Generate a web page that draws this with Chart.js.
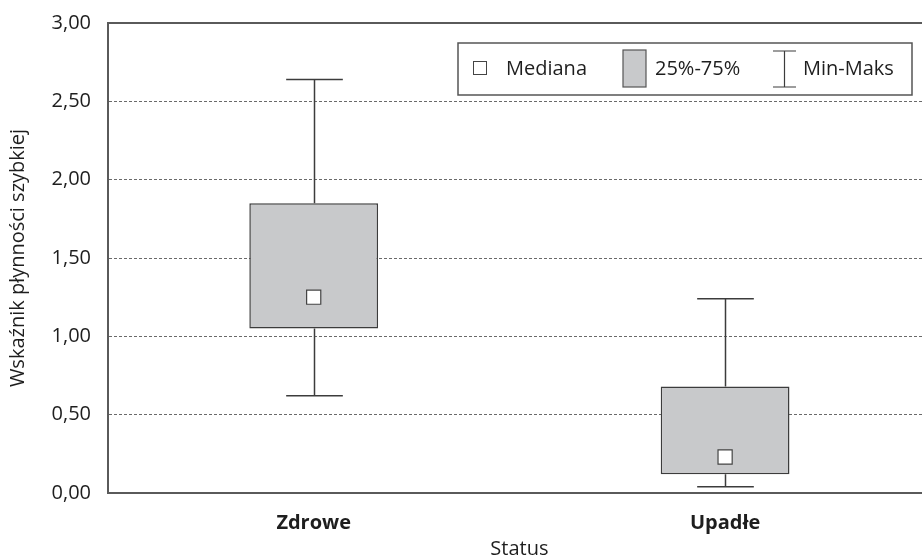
<!DOCTYPE html>
<html>
<head>
<meta charset="utf-8">
<script src="https://cdn.jsdelivr.net/npm/chart.js@4/dist/chart.umd.min.js"></script>
<style>
  html, body { margin: 0; padding: 0; background: #fff; overflow: hidden; }
  #canva { display: block; }
</style>
</head>
<body>
<canvas id="canva" width="942" height="557"></canvas>
<script>
const categories = ['Zdrowe', 'Upadłe'];
const minValues = [0.62, 0.04];
const q1Values = [1.05, 0.12];
const medianValues = [1.25, 0.23];
const q3Values = [1.85, 0.68];
const maxValues = [2.64, 1.24];
const legendLabels = ['Mediana', '25%-75%', 'Min-Maks'];

const FONT = "'Open Sans', 'DejaVu Sans', sans-serif";
const boxFill = '#c8c9cb';
const lineColor = '#3c3c3c';
const textColor = '#1e1e1e';

// whiskers + top frame line + legend
const whiskers = {
    id: 'whiskers',
    beforeDatasetsDraw(chart) {
        const ctx = chart.ctx;
        const x = chart.scales.x;
        const y = chart.scales.y;
        const bars = chart.getDatasetMeta(0).data;
        ctx.save();
        ctx.strokeStyle = lineColor;
        ctx.lineWidth = 1.5;
        categories.forEach((c, i) => {
            const px = Math.round(x.getPixelForValue(i)) + 0.5;
            const half = bars[i].width * 0.22;
            const yMax = y.getPixelForValue(maxValues[i]);
            const yMin = y.getPixelForValue(minValues[i]);
            ctx.beginPath();
            ctx.moveTo(px, yMax);
            ctx.lineTo(px, y.getPixelForValue(q3Values[i]));
            ctx.moveTo(px, y.getPixelForValue(q1Values[i]));
            ctx.lineTo(px, yMin);
            ctx.moveTo(px - half, yMax);
            ctx.lineTo(px + half, yMax);
            ctx.moveTo(px - half, yMin);
            ctx.lineTo(px + half, yMin);
            ctx.stroke();
        });
        ctx.restore();
    },
    afterDraw(chart) {
        const ctx = chart.ctx;
        const a = chart.chartArea;
        ctx.save();
        ctx.strokeStyle = '#5a5a5a';
        ctx.lineWidth = 2;
        ctx.beginPath();
        ctx.moveTo(a.left - 1, a.top);
        ctx.lineTo(a.right, a.top);
        ctx.stroke();

        // legend box
        ctx.fillStyle = '#fff';
        ctx.fillRect(458, 43, 454, 52);
        ctx.strokeStyle = '#555';
        ctx.lineWidth = 1.5;
        ctx.strokeRect(458, 43, 454, 52);

        ctx.lineWidth = 1;
        ctx.strokeStyle = '#444';
        ctx.strokeRect(473.5, 61.5, 13, 13);

        ctx.fillStyle = boxFill;
        ctx.fillRect(623, 50, 23, 37);
        ctx.strokeStyle = '#555';
        ctx.lineWidth = 1.2;
        ctx.strokeRect(623, 50, 23, 37);

        ctx.strokeStyle = lineColor;
        ctx.lineWidth = 1.2;
        ctx.beginPath();
        ctx.moveTo(784.5, 51); ctx.lineTo(784.5, 87);
        ctx.moveTo(773, 51); ctx.lineTo(796, 51);
        ctx.moveTo(773, 87); ctx.lineTo(796, 87);
        ctx.stroke();

        ctx.fillStyle = textColor;
        ctx.font = '20px ' + FONT;
        ctx.textBaseline = 'middle';
        ctx.fillText(legendLabels[0], 506, 69);
        ctx.fillText(legendLabels[1], 655, 69);
        ctx.fillText(legendLabels[2], 803, 69);
        ctx.restore();
    }
};

new Chart(document.getElementById('canva'), {
    data: {
        labels: categories,
        datasets: [
            {
                type: 'bar',
                order: 2,
                data: categories.map((c, i) => [q1Values[i], q3Values[i]]),
                backgroundColor: boxFill,
                borderColor: lineColor,
                borderWidth: 1.5,
                borderSkipped: false,
                categoryPercentage: 1,
                barPercentage: 0.313,
            },
            {
                type: 'line',
                order: 1,
                data: medianValues,
                showLine: false,
                pointStyle: 'rect',
                pointRadius: 10,
                pointBackgroundColor: '#fff',
                pointBorderColor: '#444',
                pointBorderWidth: 1.2,
            },
        ],
    },
    options: {
        responsive: false,
        animation: false,
        layout: { padding: { top: 23, right: 0, left: 0, bottom: 0 } },
        plugins: {
            legend: { display: false },
            tooltip: { enabled: false },
        },
        scales: {
            x: {
                grid: { display: false, drawTicks: false },
                border: { color: '#5a5a5a', width: 2 },
                ticks: {
                    color: textColor,
                    padding: 18,
                    font: { family: FONT, size: 20, weight: 'bold' },
                },
                title: {
                    display: true,
                    text: 'Status',
                    color: textColor,
                    padding: 0,
                    font: { family: FONT, size: 20, lineHeight: 0.8 },
                },
                afterFit: (s) => { s.height = 64; },
            },
            y: {
                min: 0,
                max: 3,
                grid: {
                    drawTicks: false,
                    lineWidth: 1,
                    color: (c) => (c.tick && (c.tick.value === 0 || c.tick.value === 3)) ? 'rgba(0,0,0,0)' : '#6a6a6a',
                },
                border: { color: '#5a5a5a', width: 2, dash: [3, 2] },
                ticks: {
                    stepSize: 0.5,
                    color: textColor,
                    padding: 17,
                    font: { family: FONT, size: 20 },
                    callback: (v) => v.toFixed(2).replace('.', ','),
                },
                title: {
                    display: true,
                    text: 'Wskaźnik płynności szybkiej',
                    color: textColor,
                    padding: { top: 6 },
                    font: { family: FONT, size: 20 },
                },
                afterFit: (s) => { s.width = 108; s.paddingTop = 0; s.paddingBottom = 0; },
            },
        },
    },
    plugins: [whiskers],
});
</script>
</body>
</html>
